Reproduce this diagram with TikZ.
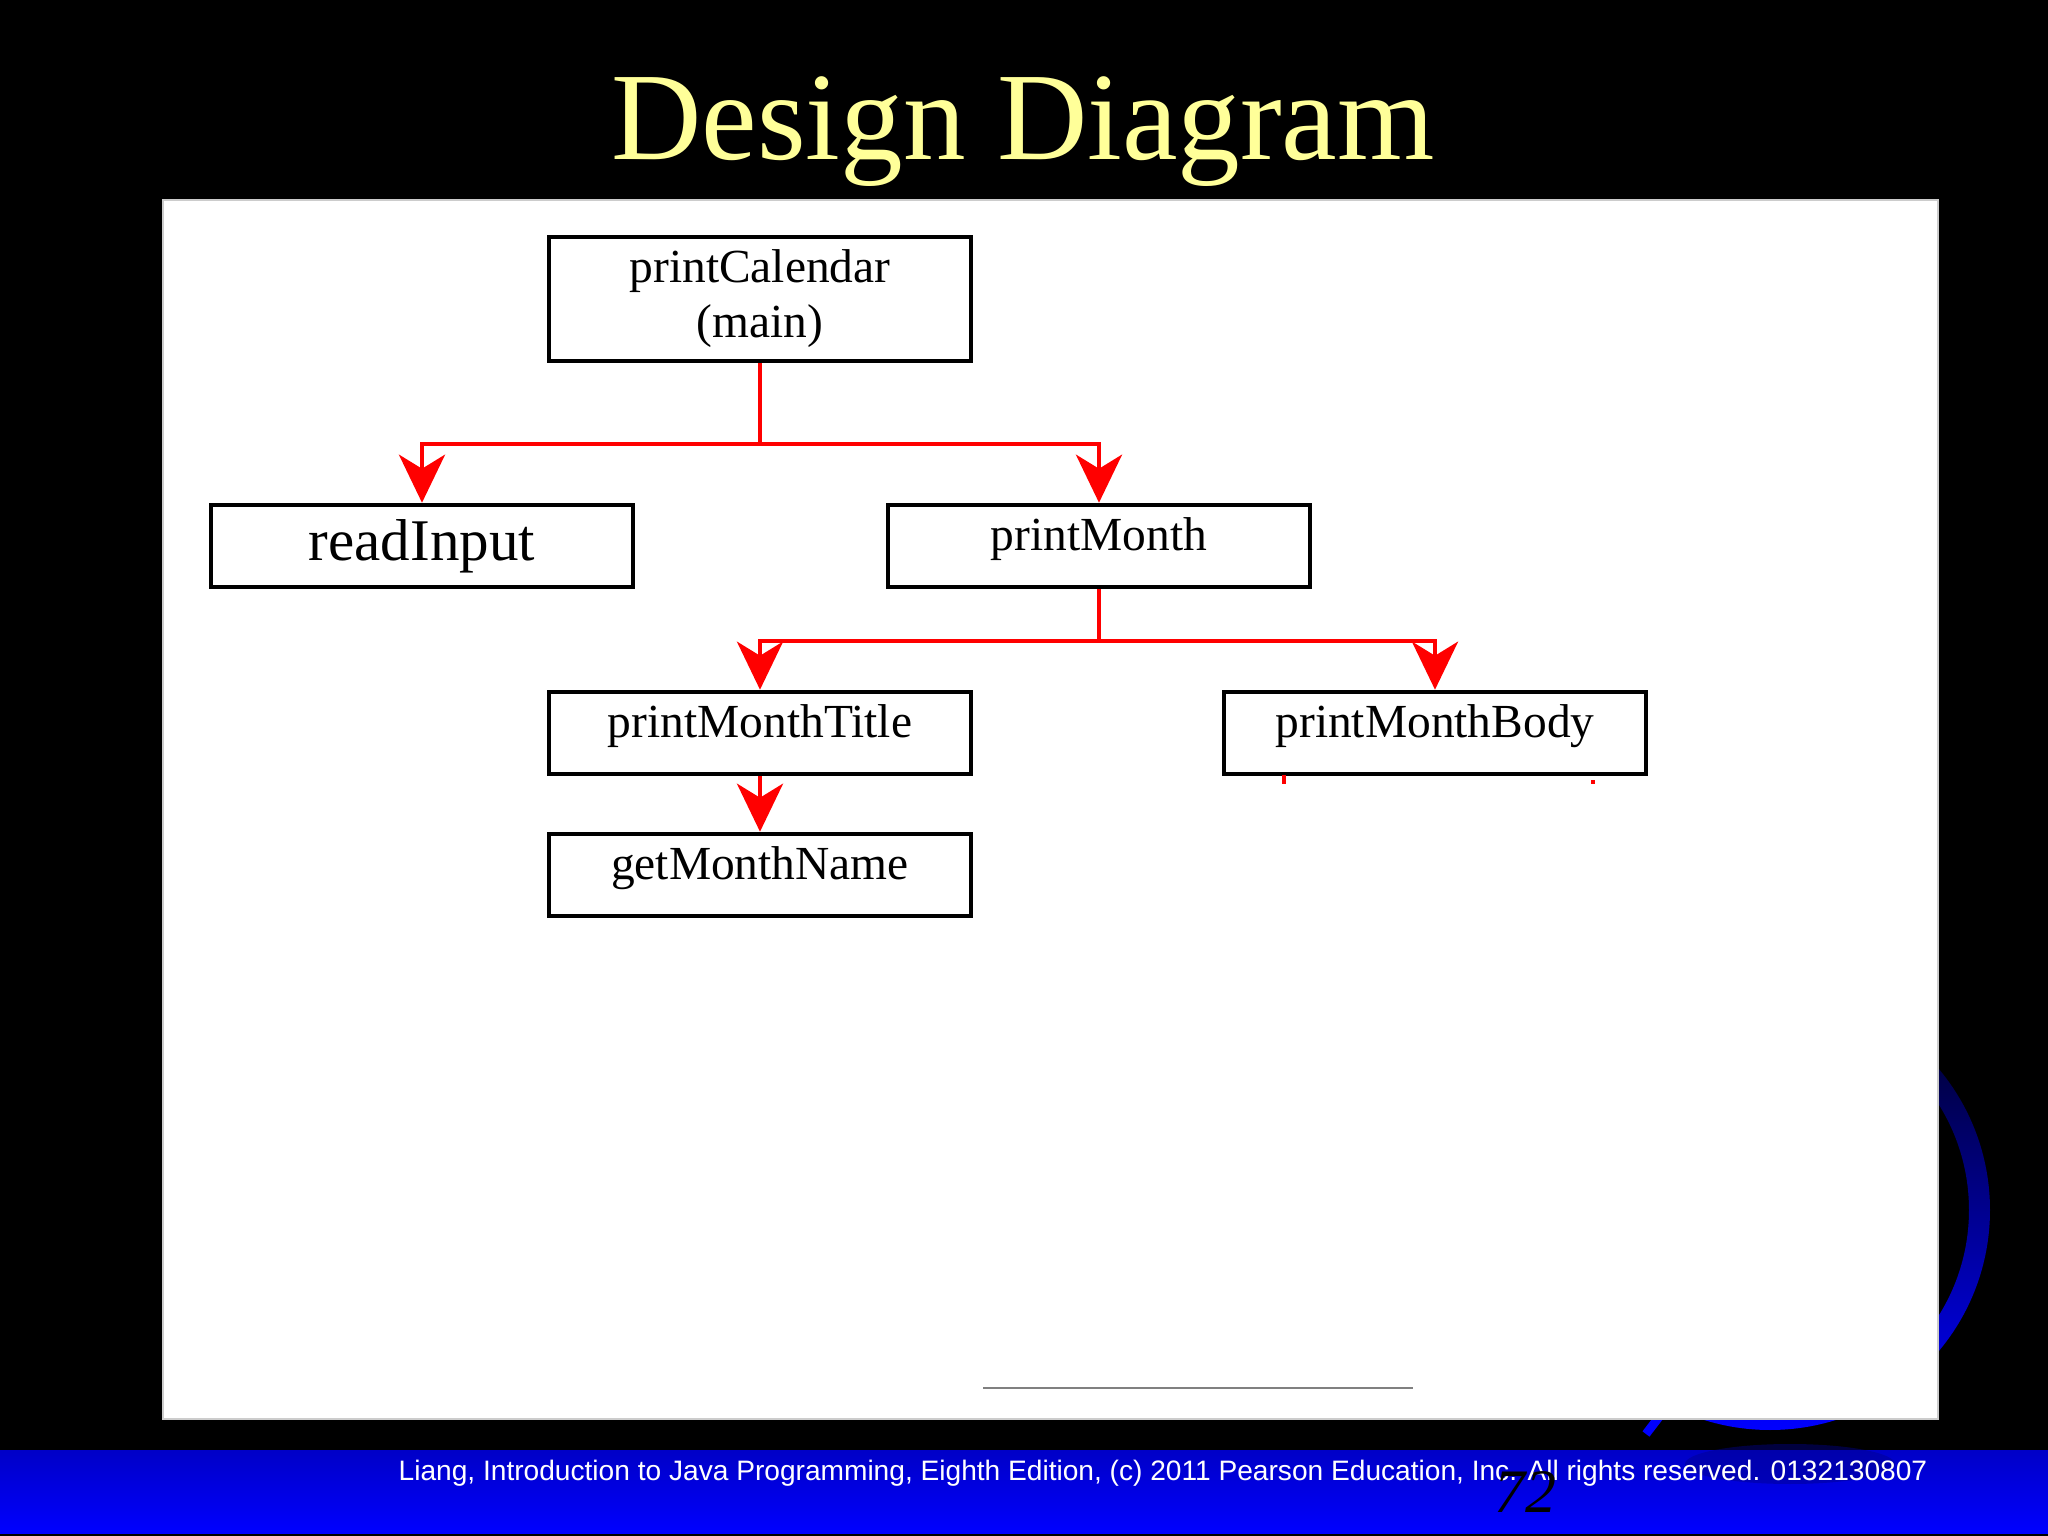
\documentclass[tikz,border=0pt]{standalone}
\usepackage{fontspec}
\setmainfont{Liberation Serif}
\newfontfamily\footfont{Liberation Sans}
\usetikzlibrary{arrows.meta}
\definecolor{titleyellow}{RGB}{255,255,153}
\definecolor{ringtop}{RGB}{0,0,30}

\begin{document}
\begin{tikzpicture}[
    every node/.append style={font=\rmfamily},
    % box styles
    funcbox/.style={draw, line width=1.3pt, fill=white, minimum width=4.22cm, minimum height=0.82cm, inner sep=0pt, align=center, font=\fontsize{13.5}{15.6}\selectfont},
    leafbox/.style={funcbox, text height=0.7em, text depth=0.45em},
    callarrow/.style={-{Stealth[length=4.8mm, width=4.6mm, inset=1.4mm]}, red, line width=1.3pt},
    calllink/.style={red, line width=1.3pt},
]

% ========== slide background ==========
\fill[black] (0, 0) rectangle (20.48, -15.36);
\useasboundingbox (0, 0) rectangle (20.48, -15.36);

% ring ornament behind the panel
\shade[even odd rule, top color=ringtop, bottom color=blue] (17.70, -12.10) circle (2.20) (17.70, -12.10) circle (1.99);
\draw[blue, line width=2.5pt] (16.72, -14.00) -- (16.46, -14.34);

% title
\node[anchor=base, text=titleyellow, font=\fontsize{35.6}{40}\selectfont] (slidetitle) at (10.23, -1.60) {Design Diagram};

% white panel
\draw[fill=white, draw=gray!40, line width=0.4pt] (1.63, -2.00) rectangle (19.38, -14.19);
\draw[gray, line width=0.6pt] (9.83, -13.88) -- (14.13, -13.88);

% ========== footer band ==========
\shade[top color=blue!78!black, bottom color=blue] (0, -14.50) rectangle (20.48, -15.33);
\fill[blue!55!black, opacity=0.45] (17.90, -14.64) ellipse (1.05 and 0.20);
\node[anchor=base, text=white, font=\footfont\fontsize{8}{9.6}\selectfont] (credit) at (11.63, -14.80) {Liang, Introduction to Java Programming, Eighth Edition, (c) 2011 Pearson Education, Inc. All rights reserved. 0132130807};
\node[anchor=base, font=\itshape\fontsize{17.6}{20}\selectfont] (pageno) at (15.25, -15.12) {72};

% ========== call hierarchy ==========
\node[funcbox, minimum height=1.24cm] (main) at (7.60, -2.99) {printCalendar\\(main)};
\node[funcbox, font=\fontsize{16.8}{19}\selectfont] (readin) at (4.22, -5.46) {readInput};
\node[leafbox] (month) at (10.99, -5.46) {printMonth};
\node[leafbox] (title) at (7.60, -7.33) {printMonthTitle};
\node[leafbox] (body) at (14.35, -7.33) {printMonthBody};
\node[leafbox] (mname) at (7.60, -8.75) {getMonthName};

% main calls
\coordinate (split1) at (7.60, -4.44);
\draw[calllink] (main.south) -- (split1);
\draw[callarrow] (split1) -| (readin.north);
\draw[callarrow] (split1) -| (month.north);

% printMonth calls
\coordinate (split2) at (10.99, -6.41);
\draw[calllink] (month.south) -- (split2);
\draw[callarrow] (split2) -| (title.north);
\draw[callarrow] (split2) -| (body.north);
\draw[callarrow] (title.south) -- (mname.north);

% stray red ticks under printMonthBody
\draw[calllink] (12.84, -7.75) -- (12.84, -7.84);
\draw[calllink] (15.93, -7.80) -- (15.93, -7.84);

\end{tikzpicture}
\end{document}
